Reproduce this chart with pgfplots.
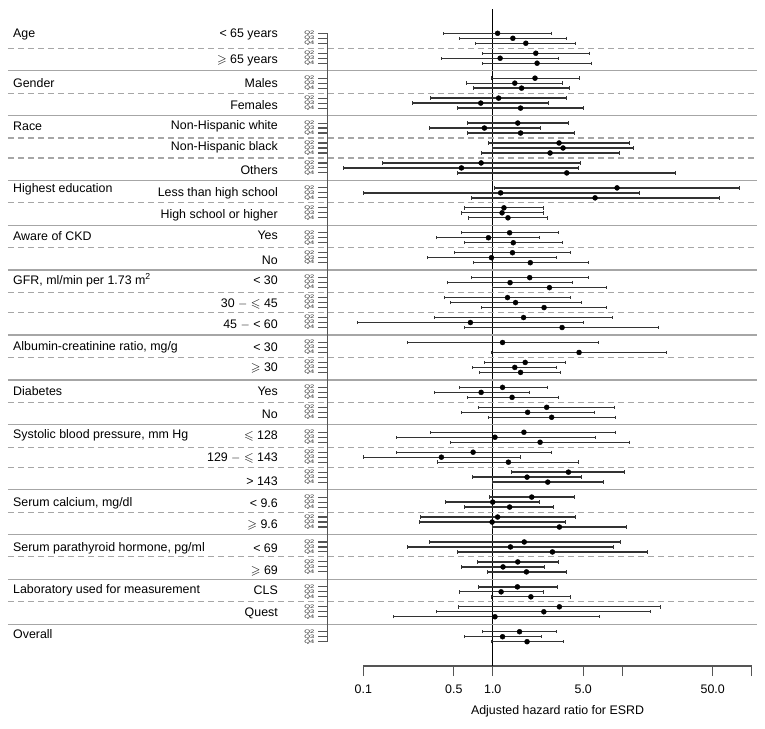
\documentclass[border=0pt]{standalone}
\usepackage{fontspec}
\setmainfont{Liberation Sans}
\usepackage{amssymb}
\usepackage{pgfplots}
\usepackage{pgfplotstable}
\pgfplotsset{compat=1.18}
\definecolor{sep}{HTML}{A6A6A6}
\definecolor{brk}{HTML}{555555}

\pgfplotstableread{
row lo hr hi
0 0.42 1.09 2.84
1 0.553 1.43 3.68
2 0.739 1.80 4.38
4 0.827 2.15 5.58
5 0.401 1.14 3.20
6 0.827 2.20 5.81
9 0.971 2.12 4.70
10 0.630 1.48 3.47
11 0.713 1.67 3.93
13 0.332 1.11 3.68
14 0.241 0.808 2.71
15 0.534 1.64 5.04
18 0.634 1.56 3.86
19 0.322 0.862 2.35
20 0.634 1.64 4.30
22 0.920 3.25 11.4
23 0.988 3.49 12.3
24 0.818 2.77 9.57
26 0.140 0.813 4.75
27 0.0699 0.573 4.61
28 0.530 3.73 25.9
31 1.03 9.12 80.8
32 0.0997 1.15 13.7
33 0.684 6.17 56.6
35 0.608 1.22 2.48
36 0.573 1.18 2.48
37 0.653 1.31 2.66
40 0.573 1.35 3.20
41 0.370 0.926 2.31
42 0.608 1.44 3.43
44 0.503 1.42 4.00
45 0.311 0.977 3.08
46 0.705 1.95 5.45
49 0.689 1.93 5.51
50 0.449 1.36 4.10
51 0.994 2.74 7.59
53 0.421 1.30 4.00
54 0.471 1.50 4.87
55 0.813 2.49 7.59
57 0.352 1.73 8.45
58 0.0897 0.672 5.04
59 0.608 3.43 19.1
62 0.221 1.19 6.59
64 0.982 4.64 21.8
66 0.868 1.78 3.62
67 0.701 1.48 3.08
68 0.789 1.64 3.35
71 0.550 1.19 2.63
72 0.352 0.813 1.92
73 0.634 1.41 3.20
75 0.780 2.61 8.75
76 0.569 1.86 6.06
77 0.920 2.85 8.86
80 0.330 1.74 8.91
81 0.181 1.04 6.17
82 0.471 2.32 11.4
84 0.181 0.705 2.84
85 0.100 0.401 1.64
86 0.372 1.32 4.61
88 1.40 3.84 10.5
89 0.692 1.84 4.87
90 0.988 2.66 7.11
93 0.943 2.00 4.25
94 0.431 1.00 2.31
95 0.608 1.35 2.96
97 0.278 1.09 4.32
98 0.270 0.988 3.62
99 0.988 3.27 10.8
102 0.322 1.75 9.68
103 0.221 1.37 8.49
104 0.530 2.89 15.6
106 0.766 1.56 3.20
107 0.569 1.20 2.52
108 0.904 1.82 3.71
111 0.770 1.55 3.14
112 0.550 1.16 2.45
113 0.982 1.97 3.96
115 0.540 3.27 19.9
116 0.370 2.48 16.5
117 0.170 1.04 6.62
120 0.837 1.61 3.08
121 0.600 1.19 2.38
122 0.971 1.84 3.51
}\data

\begin{document}
\begin{tikzpicture}[font=\fontsize{12.4}{14.5}\selectfont]
\begin{axis}[
  scale only axis, width=388.4pt, height=656.7pt,
  xmode=log, xmin=0.1, xmax=100,
  ymin=-126.87, ymax=4.81,
  clip=false,
  axis x line*=bottom, axis y line=none,
  x axis line style={-, brk, line width=1.2pt},
  xtick={0.1,0.5,1,5,10,50,100},
  xticklabels={0.1,0.5,1.0,5.0,,50.0,},
  xminorticks=false,
  tick align=outside, major tick length=10pt,
  every tick/.style={brk, line width=1.2pt},
  /pgf/number format/assume math mode=true,
  xticklabel style={yshift=-5pt},
  xlabel={Adjusted hazard ratio for ESRD},
  xlabel style={yshift=-5pt},
]
\coordinate (TL) at (axis cs:0.1,4.81);
\addplot[black, line width=0.9pt, forget plot] coordinates {(1,4.81) (1,-126.87)};
\addplot[only marks, mark=*, mark size=2.5pt, black,
  error bars/.cd, x dir=both, x explicit,
  error bar style={line width=1.3pt, black!80},
  error mark=|,
  error mark options={line width=1pt, mark size=1.7pt, black!80}]
  table[x=hr, y expr=-\thisrow{row},
        x error plus expr=\thisrow{hi}-\thisrow{hr},
        x error minus expr=\thisrow{hr}-\thisrow{lo}] {\data};
\end{axis}

\begin{scope}[shift={(TL)}, shift={(-363.3pt,-24pt)}, x=1pt, y=-4.987pt]
  % separators
  \foreach \r in {3,12,21,25,34,43,52,56,65,74,83,87,96,105,114}
    \draw[sep, line width=1.1pt, dash pattern=on 6pt off 4pt] (8,\r) -- (757,\r);
  \foreach \r in {7.5,16.5,29.5,38.5,47.5,60.5,69.5,78.5,91.5,100.5,109.5,118.5}
    \draw[sep, line width=1.4pt] (8,\r) -- (757,\r);
  % bracket
  \draw[brk, line width=1.1pt] (327.3,0) -- (327.3,122);
  \foreach \s in {0,4,9,13,18,22,26,31,35,40,44,49,53,57,62,66,71,75,80,84,88,93,97,102,106,111,115,120}{
    \foreach \k in {0,1,2}{
      \pgfmathtruncatemacro{\q}{\k+2}
      \draw[brk, line width=1.1pt] (318,\s+\k) -- (327.3,\s+\k);
      \node[anchor=east, inner sep=0pt, text=black!85] at (314.5,\s+\k) {\scalebox{1.0}[0.68]{\fontsize{7.5}{8}\selectfont Q\q}};
    }
  }
  % group labels
  \foreach \t/\r in {Age/0.25, Gender/9.9, Race/18.6, Highest education/31.3, Aware of CKD/40.6,
     {GFR, ml/min per 1.73 m\textsuperscript{2}}/49.5, {Albumin-creatinine ratio, mg/g}/63,
     Diabetes/71.7, {Systolic blood pressure, mm Hg}/80.7, {Serum calcium, mg/dl}/94.2,
     {Serum parathyroid hormone, pg/ml}/103.2, Laboratory used for measurement/111.6, Overall/120.5}
    \node[anchor=west, inner sep=0pt] at (13,\r) {\t};
  % subgroup labels
  \foreach \t/\r in {{< 65 years}/0.25, {$\geqslant$ 65 years}/5.45, Males/9.9, Females/14.4,
     Non-Hispanic white/18.6, Non-Hispanic black/22.9, Others/27.5, Less than high school/32.1,
     High school or higher/36.4, Yes/40.6, No/45.5, {< 30}/49.6, {30 $-$ $\leqslant$ 45}/54.3,
     {45 $-$ < 60}/58.5, {< 30}/63.0, {$\geqslant$ 30}/67.1, Yes/71.7, No/76.3,
     {$\leqslant$ 128}/80.7, {129 $-$ $\leqslant$ 143}/85.2, {> 143}/89.8, {< 9.6}/94.2,
     {$\geqslant$ 9.6}/98.6, {< 69}/103.2, {$\geqslant$ 69}/107.8, CLS/111.6, Quest/116.4}
    \node[anchor=east, inner sep=0pt] at (278,\r) {\t};
\end{scope}

\pgfresetboundingbox
\path[use as bounding box] ([shift={(-363.3pt,9.3pt)}]TL) rectangle ++(765pt,-728pt);
\end{tikzpicture}
\end{document}
